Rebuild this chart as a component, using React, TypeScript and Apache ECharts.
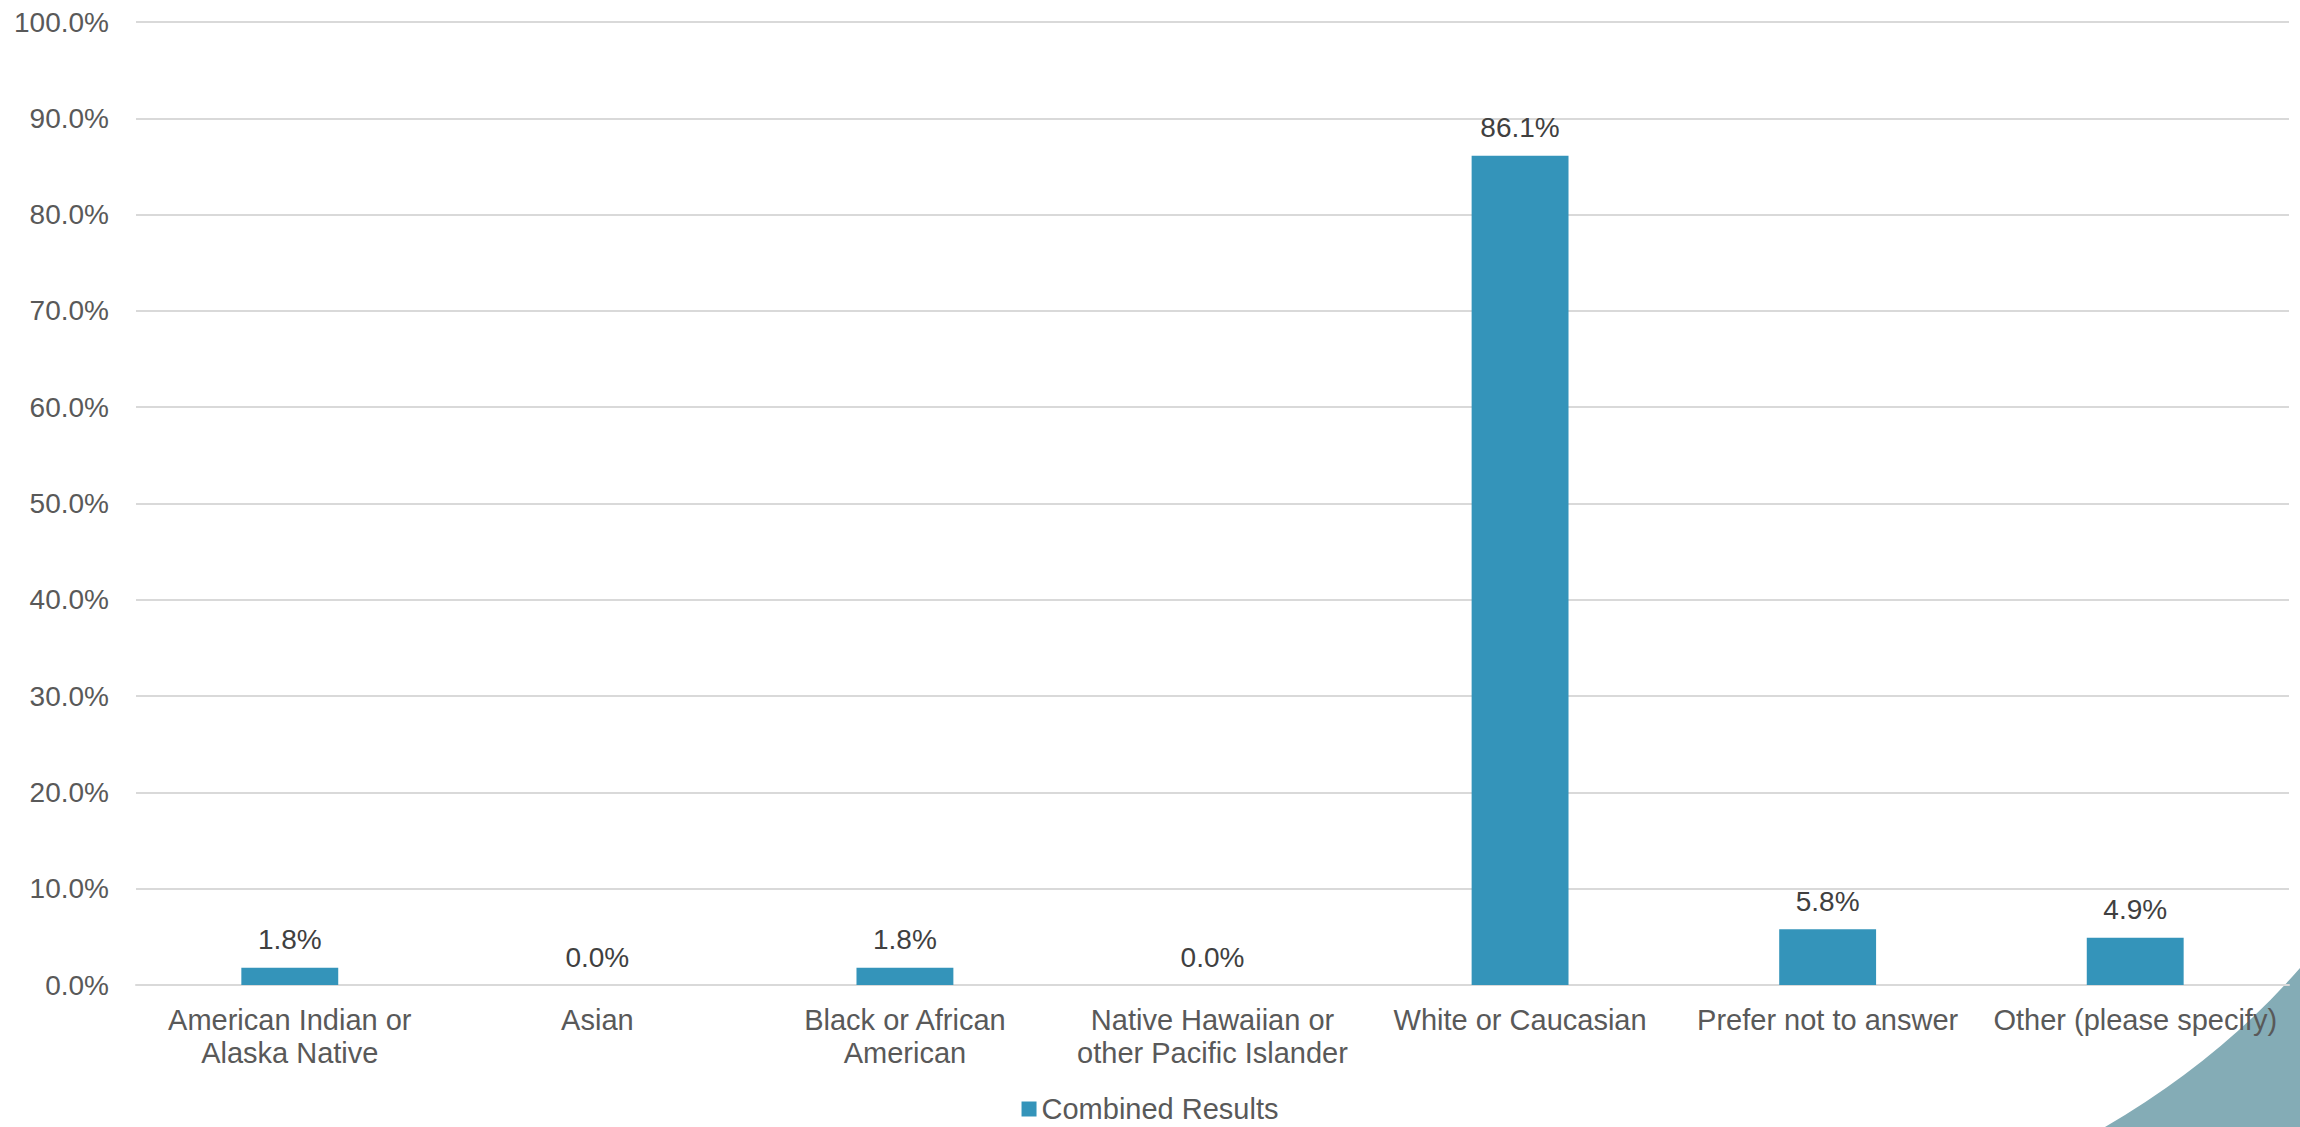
import React, { useEffect, useRef } from "react";
import * as echarts from "echarts";

const categories = [
  "American Indian or\nAlaska Native",
  "Asian",
  "Black or African\nAmerican",
  "Native Hawaiian or\nother Pacific Islander",
  "White or Caucasian",
  "Prefer not to answer",
  "Other (please specify)",
];
const seriesName = "Combined Results";
const values = [1.8, 0.0, 1.8, 0.0, 86.1, 5.8, 4.9];
const yMin = 0;
const yMax = 100;
const yInterval = 10;

const FONT = "'Liberation Sans', Arial, sans-serif";

export default function App() {
  const ref = useRef<HTMLDivElement>(null);
  useEffect(() => {
    document.body.style.margin = "0";
    if (!ref.current) return;
    const chart = echarts.init(ref.current, undefined, { renderer: "svg" });
    echarts.graphic.registerShape(
      "cornerShape",
      echarts.graphic.extendPath("M 2105 1127 Q 2220 1060 2300 968 L 2300 1127 Z", {})
    );
    chart.setOption({
      animation: false,
      backgroundColor: "#ffffff",
      textStyle: { fontFamily: FONT },
      grid: { left: 136, right: 11, top: 22, bottom: 142, containLabel: false },
      legend: {
        data: [seriesName],
        left: "center",
        top: 1094,
        padding: 0,
        icon: "rect",
        itemWidth: 15,
        itemHeight: 15,
        itemGap: 20,
        textStyle: { fontSize: 29, color: "#595959", fontFamily: FONT, lineHeight: 30 },
      },
      xAxis: {
        type: "category",
        data: categories,
        axisLine: { show: true, lineStyle: { color: "#d9d9d9", width: 2 } },
        axisTick: { show: false },
        axisLabel: {
          interval: 0,
          fontSize: 29,
          color: "#595959",
          fontFamily: FONT,
          lineHeight: 33,
          margin: 18,
        },
      },
      yAxis: {
        type: "value",
        min: yMin,
        max: yMax,
        interval: yInterval,
        axisLine: { show: false },
        axisTick: { show: false },
        splitLine: { lineStyle: { color: "#d9d9d9", width: 2 } },
        axisLabel: {
          fontSize: 28,
          color: "#595959",
          fontFamily: FONT,
          margin: 27,
          formatter: (v: number) => v.toFixed(1) + "%",
        },
      },
      series: [
        {
          name: seriesName,
          type: "bar",
          data: values,
          barWidth: "31.5%",
          itemStyle: { color: "#3494ba" },
          label: {
            show: true,
            position: "top",
            distance: 14,
            fontSize: 28,
            color: "#404040",
            fontFamily: FONT,
            formatter: (p: any) => Number(p.value).toFixed(1) + "%",
          },
        },
      ],
      graphic: [
        {
          type: "cornerShape",
          x: 0,
          y: 0,
          z: -10,
          style: { fill: "#84acb6" },
          silent: true,
        },
      ],
    });
    return () => chart.dispose();
  }, []);
  return (
    <div
      ref={ref}
      style={{ position: "absolute", left: 0, top: 0, width: 2300, height: 1127 }}
    />
  );
}
